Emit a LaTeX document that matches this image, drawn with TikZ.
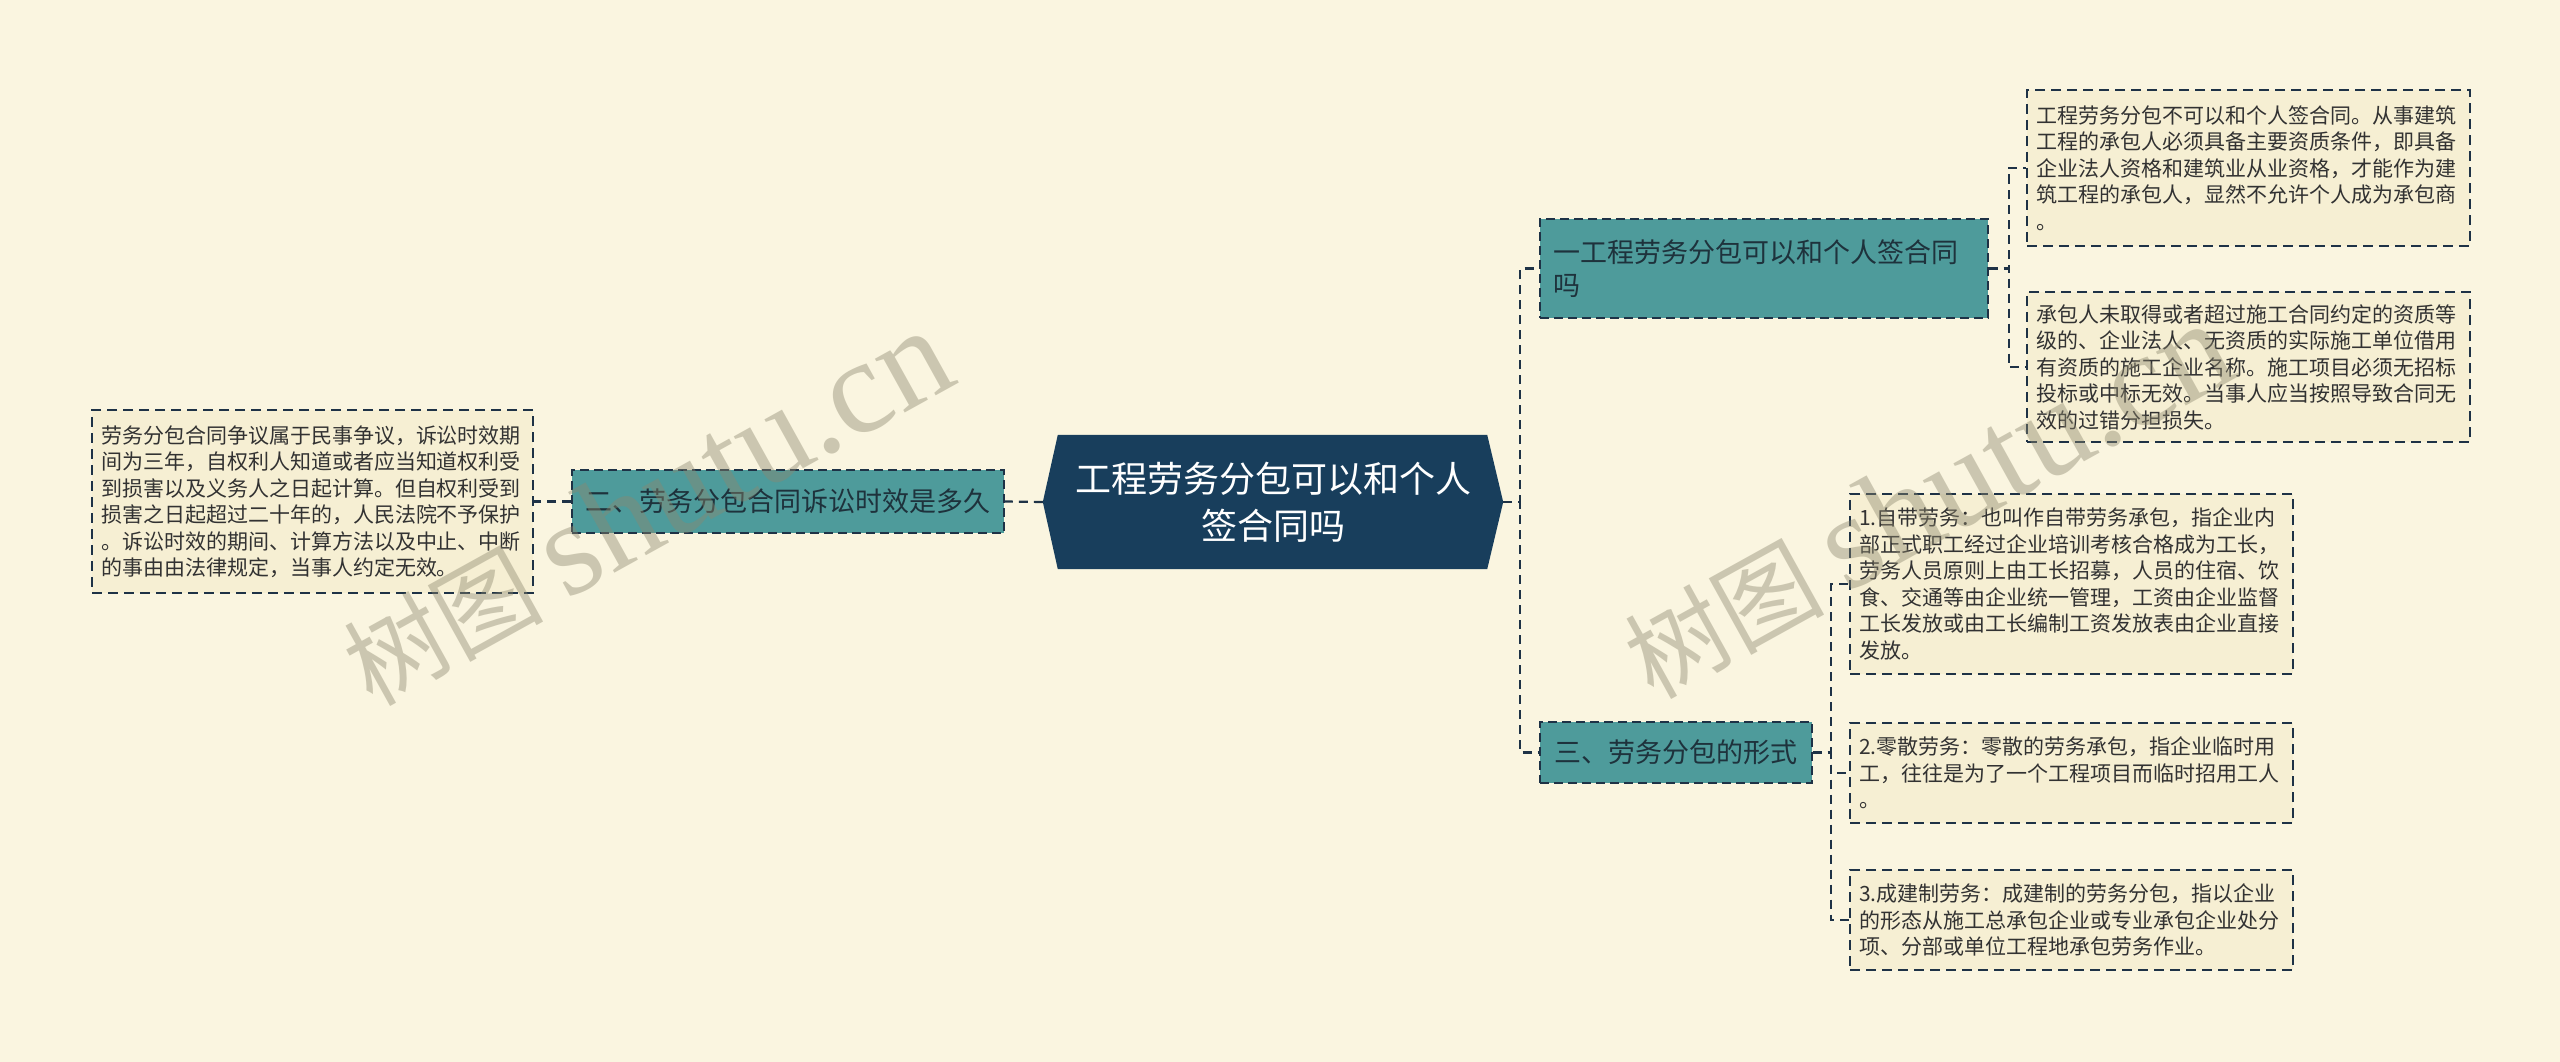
\documentclass[tikz,border=0pt]{standalone}
\usepackage{fontspec}
\setmainfont{Noto Sans CJK SC}
\newfontfamily\wmlatin{Liberation Serif}
\definecolor{bgc}{RGB}{250,245,224}
\definecolor{linec}{RGB}{30,50,70}
\definecolor{centerc}{RGB}{24,62,92}
\definecolor{tealc}{RGB}{78,155,155}
\definecolor{tealtext}{RGB}{30,50,60}
\definecolor{leaffill}{RGB}{246,239,211}
\definecolor{leaftext}{RGB}{50,50,50}
\definecolor{wmc}{RGB}{140,135,110}
\begin{document}
\begin{tikzpicture}[x=1pt,y=-1pt,
  conn/.style={draw=linec, line width=2.2pt, dash pattern=on 9pt off 6pt},
  leaf/.style={draw=linec, line width=2pt, dash pattern=on 10pt off 6pt, fill=leaffill, text=leaftext, font=\fontsize{21pt}{26.5pt}\selectfont, align=left, inner xsep=9pt, inner ysep=0pt, text width=425pt},
  topic/.style={draw=linec, line width=1.6pt, dash pattern=on 9pt off 5pt, fill=tealc, text=tealtext, font=\fontsize{27pt}{33pt}\selectfont, inner xsep=13pt, inner ysep=0pt},
  wm/.style={text=wmc, text opacity=0.42, inner sep=0pt, anchor=base west, rotate=29}
]
\fill[bgc] (0,0) rectangle (2560,1062);
\useasboundingbox (0,0) rectangle (2560,1062);

% central topic
\node[minimum width=460pt, minimum height=134pt, inner sep=0pt] (c) at (1273,502) {};
\fill[centerc] (c.west) -- ([xshift=15pt]c.north west) -- ([xshift=-16pt]c.north east) -- (c.east) -- ([xshift=-16pt]c.south east) -- ([xshift=15pt]c.south west) -- cycle;
\node[text=white, font=\fontsize{36pt}{47pt}\selectfont, align=center] (ct) at (c.center) {工程劳务分包可以和个人\\签合同吗};

% main branches
\node[topic, minimum width=448pt, minimum height=99pt, text width=422pt, align=left] (n1) at (1764,268.5) {一工程劳务分包可以和个人签合同\\吗};
\node[topic, minimum width=432pt, minimum height=63pt, align=center] (n2) at (788,501.5) {二、劳务分包合同诉讼时效是多久};
\node[topic, minimum width=272pt, minimum height=61pt, align=center] (n3) at (1676,752.5) {三、劳务分包的形式};

% leaves
\node[leaf, minimum height=156pt] (L1) at (2248.5,168) {工程劳务分包不可以和个人签合同。从事建筑\\工程的承包人必须具备主要资质条件，即具备\\企业法人资格和建筑业从业资格，才能作为建\\筑工程的承包人，显然不允许个人成为承包商\\。};
\node[leaf, minimum height=150pt] (L2) at (2248.5,367) {承包人未取得或者超过施工合同约定的资质等\\级的、企业法人、无资质的实际施工单位借用\\有资质的施工企业名称。施工项目必须无招标\\投标或中标无效。当事人应当按照导致合同无\\效的过错分担损失。};
\node[leaf, minimum height=180pt] (L3) at (2071.5,584) {1.自带劳务：也叫作自带劳务承包，指企业内\\部正式职工经过企业培训考核合格成为工长，\\劳务人员原则上由工长招募，人员的住宿、饮\\食、交通等由企业统一管理，工资由企业监督\\工长发放或由工长编制工资发放表由企业直接\\发放。};
\node[leaf, minimum height=100pt] (L4) at (2071.5,773) {2.零散劳务：零散的劳务承包，指企业临时用\\工，往往是为了一个工程项目而临时招用工人\\。};
\node[leaf, minimum height=100pt] (L5) at (2071.5,920) {3.成建制劳务：成建制的劳务分包，指以企业\\的形态从施工总承包企业或专业承包企业处分\\项、分部或单位工程地承包劳务作业。};
\node[leaf, minimum height=183pt, text width=423pt] (L0) at (312.5,501.5) {劳务分包合同争议属于民事争议，诉讼时效期\\间为三年，自权利人知道或者应当知道权利受\\到损害以及义务人之日起计算。但自权利受到\\损害之日起超过二十年的，人民法院不予保护\\。诉讼时效的期间、计算方法以及中止、中断\\的事由由法律规定，当事人约定无效。};

% connectors
\draw[conn] (c.east) -- ++(17,0) |- (n1.west);
\draw[conn] (c.east) -- ++(17,0) |- (n3.west);
\draw[conn] (c.west) -- (n2.east);
\draw[conn] (n2.west) -- (L0.east);
\draw[conn] (n1.east) -- ++(20,0) |- (L1.west);
\draw[conn] (n1.east) -- ++(20,0) |- (L2.west);
\draw[conn] (n3.east) -- ++(18,0) |- (L3.west);
\draw[conn] (n3.east) -- ++(18,0) |- (L4.west);
\draw[conn] (n3.east) -- ++(18,0) |- (L5.west);

% watermarks
\node[wm] (w1) at (372,708) {\fontsize{100pt}{100pt}\selectfont 树图\ {\wmlatin\fontsize{134pt}{134pt}\selectfont shutu.cn}};
\node[wm] (w2) at (1653,701) {\fontsize{100pt}{100pt}\selectfont 树图\ {\wmlatin\fontsize{134pt}{134pt}\selectfont shutu.cn}};
\end{tikzpicture}
\end{document}
